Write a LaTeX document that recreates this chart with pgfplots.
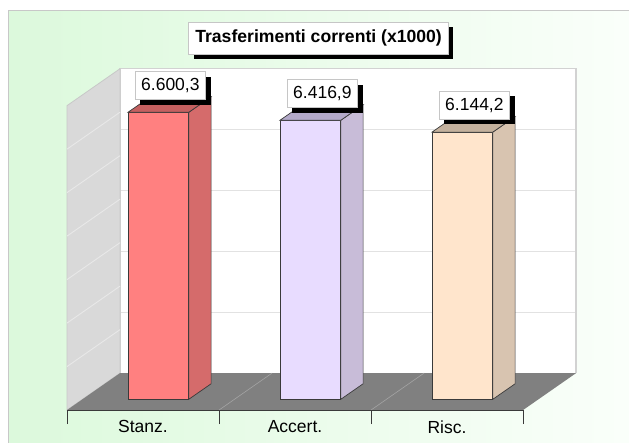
\documentclass[border=0pt]{standalone}
\usepackage{fontspec}
\setmainfont{Liberation Sans}
\usepackage{pgfplots}
\pgfplotsset{compat=1.18}
\usetikzlibrary{shadows}
\definecolor{bgL}{HTML}{DCF9DC}
\definecolor{bgR}{HTML}{FBFFFB}
\definecolor{frameC}{HTML}{C8C8C8}
\definecolor{wallBorder}{HTML}{D2D2D2}
\definecolor{wallGrid}{HTML}{E2E2E2}
\definecolor{leftWall}{HTML}{D9D9D9}
\definecolor{leftGrid}{HTML}{E8E8E8}
\definecolor{floorC}{HTML}{808080}
\definecolor{floorLine}{HTML}{A4A4A4}
\definecolor{edgeC}{HTML}{3A3A3A}
\definecolor{rFront}{HTML}{FF8080}
\definecolor{rSide}{HTML}{D56B6B}
\definecolor{rTop}{HTML}{C46060}
\definecolor{lFront}{HTML}{E8DCFF}
\definecolor{lSide}{HTML}{C8BCD8}
\definecolor{lTop}{HTML}{B3A9C9}
\definecolor{pFront}{HTML}{FFE5CC}
\definecolor{pSide}{HTML}{D8C4B0}
\definecolor{pTop}{HTML}{C4B19D}
\begin{document}
\begin{tikzpicture}[
  lab/.style={fill=white, draw=gray!45, line width=0.8pt, inner xsep=6pt, inner ysep=0pt,
    minimum height=28pt, font=\fontsize{17.5}{20}\selectfont,
    drop shadow={shadow xshift=5pt, shadow yshift=-5pt, fill=black, opacity=1}},
]
\begin{axis}[
  scale only axis, width=456pt, height=304.35pt,
  xmin=-0.5, xmax=2.5, ymin=0, ymax=7000,
  clip=false, axis on top,
  axis x line*=bottom, axis y line=none,
  x axis line style={draw=edgeC, line width=0.8pt},
  xtick={0,1,2}, xticklabels={Stanz.,Accert.,Risc.},
  minor xtick={-0.5,0.5,1.5,2.5},
  tick align=outside, major tick length=0pt, minor tick length=14pt,
  every tick/.style={draw=edgeC, line width=0.8pt},
  xticklabel style={font=\fontsize{17.5}{20}\selectfont, yshift=-7pt},
]
% chart area background (frame)
\fill[left color=bgL, right color=bgR] (axis cs:-0.8816,-800) rectangle (axis cs:3.3,9177);
\draw[frameC, line width=1pt] (axis cs:-0.8816,-800) -- (axis cs:-0.8816,9177) -- (axis cs:3.3,9177);
\coordinate (bbsw) at (axis cs:-0.9408,-736);
\coordinate (bbne) at (axis cs:3.197,9430);

% back wall
\addplot[fill=white, draw=none] coordinates {(-0.151,850) (2.849,850) (2.849,7850) (-0.151,7850)} --cycle;
\addplot[draw=wallGrid, line width=1.3pt] coordinates {(-0.151,2250) (2.849,2250)};
\addplot[draw=wallGrid, line width=1.3pt] coordinates {(-0.151,3650) (2.849,3650)};
\addplot[draw=wallGrid, line width=1.3pt] coordinates {(-0.151,5050) (2.849,5050)};
\addplot[draw=wallGrid, line width=1.3pt] coordinates {(-0.151,6450) (2.849,6450)};
\addplot[draw=wallBorder, line width=1.6pt] coordinates {(-0.151,850) (-0.151,7850) (2.849,7850) (2.849,850)};

% left wall
\addplot[fill=leftWall, draw=frameC, line width=0.8pt] coordinates {(-0.5,0) (-0.151,850) (-0.151,7850) (-0.5,7000)} --cycle;
\addplot[draw=leftGrid, line width=0.9pt] coordinates {(-0.5,1000) (-0.151,1850)};
\addplot[draw=leftGrid, line width=0.9pt] coordinates {(-0.5,2000) (-0.151,2850)};
\addplot[draw=leftGrid, line width=0.9pt] coordinates {(-0.5,3000) (-0.151,3850)};
\addplot[draw=leftGrid, line width=0.9pt] coordinates {(-0.5,4000) (-0.151,4850)};
\addplot[draw=leftGrid, line width=0.9pt] coordinates {(-0.5,5000) (-0.151,5850)};
\addplot[draw=leftGrid, line width=0.9pt] coordinates {(-0.5,6000) (-0.151,6850)};

% floor
\addplot[fill=floorC, draw=none] coordinates {(-0.5,0) (2.5,0) (2.849,850) (-0.151,850)} --cycle;
\addplot[draw=floorLine, line width=0.6pt] coordinates {(0.5,0) (0.849,850)};
\addplot[draw=floorLine, line width=0.6pt] coordinates {(1.5,0) (1.849,850)};

% bar 1: Stanz. 6600.3
\addplot[fill=rFront, draw=edgeC, line width=0.7pt] coordinates {(-0.099,247) (0.301,247) (0.301,6847.3) (-0.099,6847.3)} --cycle;
\addplot[fill=rSide, draw=edgeC, line width=0.7pt] coordinates {(0.301,247) (0.448,604) (0.448,7204.3) (0.301,6847.3)} --cycle;
\addplot[fill=rTop, draw=edgeC, line width=0.7pt] coordinates {(-0.099,6847.3) (0.301,6847.3) (0.448,7204.3) (0.048,7204.3)} --cycle;
% bar 2: Accert. 6416.9
\addplot[fill=lFront, draw=edgeC, line width=0.7pt] coordinates {(0.901,247) (1.301,247) (1.301,6663.9) (0.901,6663.9)} --cycle;
\addplot[fill=lSide, draw=edgeC, line width=0.7pt] coordinates {(1.301,247) (1.448,604) (1.448,7020.9) (1.301,6663.9)} --cycle;
\addplot[fill=lTop, draw=edgeC, line width=0.7pt] coordinates {(0.901,6663.9) (1.301,6663.9) (1.448,7020.9) (1.048,7020.9)} --cycle;
% bar 3: Risc. 6144.2
\addplot[fill=pFront, draw=edgeC, line width=0.7pt] coordinates {(1.901,247) (2.301,247) (2.301,6391.2) (1.901,6391.2)} --cycle;
\addplot[fill=pSide, draw=edgeC, line width=0.7pt] coordinates {(2.301,247) (2.448,604) (2.448,6748.2) (2.301,6391.2)} --cycle;
\addplot[fill=pTop, draw=edgeC, line width=0.7pt] coordinates {(1.901,6391.2) (2.301,6391.2) (2.448,6748.2) (2.048,6748.2)} --cycle;

% value labels
\node[lab, anchor=south] at (axis cs:0.18,7130.3) {6.600,3};
\node[lab, anchor=south] at (axis cs:1.18,6946.9) {6.416,9};
\node[lab, anchor=south] at (axis cs:2.18,6674.2) {6.144,2};

% title
\node[lab, minimum height=32pt, inner xsep=6.5pt, font=\fontsize{17.6}{20}\selectfont\bfseries] at (axis cs:1.155,8556) {Trasferimenti correnti (x1000)};
\end{axis}
\pgfresetboundingbox
\path[use as bounding box] (bbsw) rectangle (bbne);
\end{tikzpicture}
\end{document}
